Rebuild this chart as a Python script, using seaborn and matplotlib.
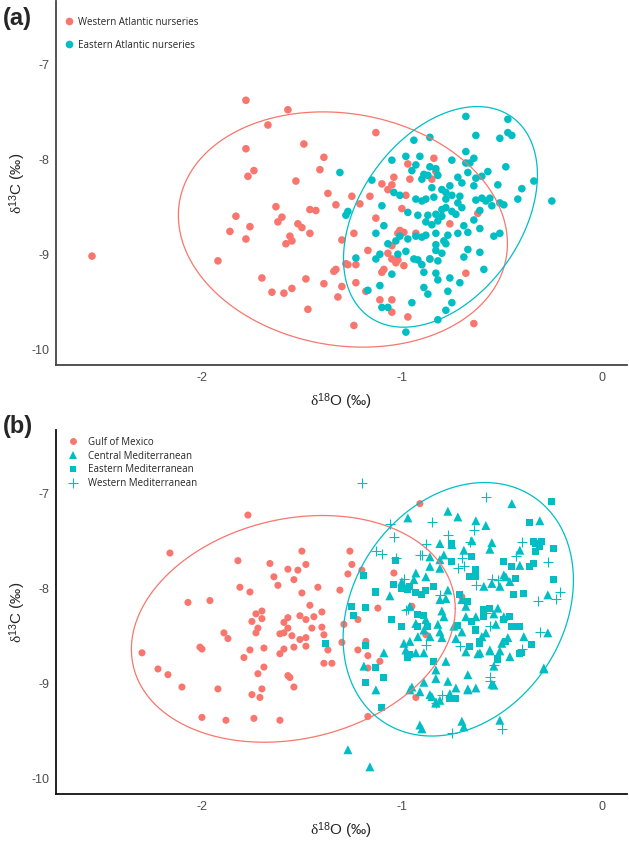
import numpy as np
import pandas as pd
import matplotlib
matplotlib.use("Agg")
import matplotlib.pyplot as plt
from matplotlib.lines import Line2D
import seaborn as sns

# ── Data: (d18O, d13C) pairs ─────────────────────────────────────────────────

# panel (a)
WESTERN_ATLANTIC = [
    (-2.55, -9.02), (-1.78, -7.38), (-1.57, -7.48), (-1.67, -7.64), (-1.78, -7.89),
    (-1.49, -7.84), (-1.74, -8.12), (-1.77, -8.18), (-1.53, -8.23), (-1.41, -8.11),
    (-1.63, -8.50), (-1.46, -8.53), (-1.43, -8.54), (-1.83, -8.60), (-1.60, -8.61),
    (-1.62, -8.66), (-1.52, -8.68), (-1.50, -8.72), (-1.76, -8.71), (-1.86, -8.76),
    (-1.46, -8.78), (-1.78, -8.84), (-1.56, -8.81), (-1.55, -8.86), (-1.58, -8.89),
    (-1.92, -9.07), (-1.70, -9.25), (-1.48, -9.26), (-1.65, -9.40), (-1.59, -9.41),
    (-1.55, -9.36), (-1.47, -9.58),
    (-1.13, -7.72), (-1.39, -7.98), (-1.37, -8.36), (-1.33, -8.48), (-1.25, -8.39),
    (-1.21, -8.47), (-1.16, -8.39), (-1.30, -8.85), (-1.24, -8.78), (-1.10, -8.26),
    (-1.07, -8.32), (-1.04, -8.19), (-1.05, -8.27), (-0.97, -8.05), (-0.96, -8.21),
    (-0.98, -8.38), (-1.00, -8.52), (-1.13, -8.62), (-0.84, -7.99), (-0.85, -8.21),
    (-0.83, -8.13), (-1.02, -8.78), (-1.01, -8.75), (-0.99, -8.77), (-0.93, -8.78),
    (-1.05, -8.91), (-1.07, -8.99), (-1.05, -9.05), (-1.03, -9.09), (-1.02, -9.06),
    (-0.99, -9.12), (-1.09, -9.16), (-1.10, -9.19), (-1.17, -8.96), (-1.28, -9.10),
    (-1.27, -9.11), (-1.23, -9.11), (-1.34, -9.18), (-1.33, -9.16), (-1.30, -9.34),
    (-1.39, -9.31), (-1.32, -9.45), (-1.23, -9.30), (-1.24, -9.75), (-1.18, -9.39),
    (-1.11, -9.48), (-1.05, -9.48), (-1.05, -9.61), (-0.97, -9.66), (-0.86, -9.05),
    (-0.76, -8.68), (-0.68, -9.20), (-0.64, -9.73), (-0.62, -8.57),
]

EASTERN_ATLANTIC = [
    (-0.68, -7.55), (-0.47, -7.58), (-0.47, -7.72), (-0.45, -7.75), (-0.51, -7.78),
    (-0.63, -7.75), (-0.86, -7.77), (-0.94, -7.80), (-0.68, -7.92), (-0.64, -7.99),
    (-0.98, -7.97), (-0.91, -7.97), (-1.05, -8.01), (-0.93, -8.06), (-0.75, -8.01),
    (-0.68, -8.04), (-0.66, -8.04), (-0.48, -8.08), (-0.86, -8.08), (-1.31, -8.14),
    (-0.95, -8.12), (-0.89, -8.16), (-0.83, -8.10), (-0.87, -8.17), (-0.82, -8.17),
    (-0.90, -8.21), (-0.72, -8.19), (-0.67, -8.14), (-0.63, -8.20), (-0.60, -8.18),
    (-0.57, -8.13), (-0.70, -8.25), (-0.64, -8.28), (-0.52, -8.27), (-0.34, -8.23),
    (-0.40, -8.31), (-0.42, -8.42), (-0.49, -8.48), (-1.15, -8.22), (-0.85, -8.30),
    (-0.80, -8.32), (-0.76, -8.28), (-0.75, -8.38), (-0.78, -8.35), (-0.84, -8.40),
    (-0.88, -8.42), (-0.93, -8.42), (-0.90, -8.44), (-1.04, -8.35), (-1.01, -8.38),
    (-0.78, -8.42), (-0.72, -8.46), (-0.71, -8.39), (-0.63, -8.43), (-0.60, -8.41),
    (-0.58, -8.44), (-0.55, -8.49), (-0.51, -8.46), (-0.56, -8.41), (-1.10, -8.49),
    (-0.97, -8.56), (-0.92, -8.59), (-0.87, -8.59), (-0.83, -8.58), (-0.80, -8.53),
    (-0.78, -8.51), (-0.75, -8.55), (-0.70, -8.51), (-0.61, -8.54), (-0.64, -8.64),
    (-0.69, -8.70), (-0.73, -8.58), (-0.80, -8.60), (-0.82, -8.65), (-0.85, -8.69),
    (-0.88, -8.66), (-1.09, -8.70), (-1.13, -8.78), (-1.28, -8.59), (-1.27, -8.55),
    (-1.07, -8.89), (-1.03, -8.86), (-1.01, -8.81), (-0.97, -8.84), (-0.93, -8.81),
    (-0.90, -8.82), (-0.88, -8.80), (-0.83, -8.78), (-0.77, -8.80), (-0.79, -8.86),
    (-0.83, -8.90), (-0.78, -8.89), (-0.72, -8.78), (-0.67, -8.77), (-0.61, -8.73),
    (-0.54, -8.81), (-0.51, -8.78), (-0.69, -9.03), (-1.11, -9.00), (-1.13, -9.05),
    (-1.02, -9.00), (-0.98, -8.97), (-0.94, -9.05), (-0.92, -9.06), (-0.86, -9.05),
    (-0.82, -9.07), (-0.83, -8.96), (-0.80, -8.99), (-0.67, -8.95), (-0.61, -8.98),
    (-0.90, -9.11), (-0.89, -9.19), (-0.83, -9.20), (-0.82, -9.27), (-0.76, -9.25),
    (-0.71, -9.30), (-0.59, -9.16), (-1.23, -9.04), (-1.11, -9.33), (-1.17, -9.38),
    (-1.05, -9.21), (-0.89, -9.35), (-0.87, -9.42), (-0.77, -9.39), (-0.75, -9.51),
    (-0.78, -9.59), (-0.95, -9.51), (-1.10, -9.56), (-1.07, -9.56), (-0.82, -9.69),
    (-0.98, -9.82), (-0.25, -8.44),
]

# panel (b)
GULF_OF_MEXICO = [
    (-1.77, -7.23), (-2.16, -7.63), (-1.82, -7.71), (-1.66, -7.74), (-1.50, -7.61),
    (-1.48, -7.75), (-1.57, -7.80), (-1.52, -7.81), (-1.64, -7.88), (-1.54, -7.91),
    (-1.62, -7.97), (-1.81, -7.99), (-1.76, -8.04), (-1.50, -8.05), (-1.42, -7.99),
    (-2.07, -8.15), (-1.96, -8.13), (-1.46, -8.18), (-1.73, -8.27), (-1.70, -8.24),
    (-1.70, -8.32), (-1.75, -8.35), (-1.40, -8.25), (-1.44, -8.30), (-1.51, -8.29),
    (-1.57, -8.31), (-1.48, -8.33), (-1.59, -8.36), (-1.45, -8.42), (-1.40, -8.41),
    (-1.72, -8.42), (-1.73, -8.47), (-1.57, -8.42), (-1.89, -8.47), (-1.87, -8.53),
    (-1.61, -8.48), (-1.59, -8.47), (-1.55, -8.50), (-1.51, -8.54), (-1.48, -8.52),
    (-1.39, -8.49), (-2.01, -8.62), (-2.00, -8.64), (-2.30, -8.68), (-1.76, -8.65),
    (-1.69, -8.63), (-1.54, -8.62), (-1.59, -8.64), (-1.61, -8.69), (-1.48, -8.61),
    (-1.37, -8.65), (-1.79, -8.73), (-1.39, -8.79), (-1.35, -8.79), (-1.69, -8.83),
    (-1.72, -8.90), (-2.22, -8.85), (-2.17, -8.91), (-1.57, -8.92), (-1.56, -8.94),
    (-2.10, -9.04), (-1.92, -9.06), (-1.54, -9.04), (-1.70, -9.06), (-1.75, -9.12),
    (-1.71, -9.15), (-2.00, -9.36), (-1.88, -9.39), (-1.74, -9.37), (-1.61, -9.39),
    (-0.91, -7.11), (-1.26, -7.61), (-1.25, -7.75), (-1.20, -7.81), (-1.27, -7.85),
    (-1.04, -7.84), (-1.31, -8.02), (-1.12, -8.21), (-1.22, -8.33), (-1.29, -8.38),
    (-1.30, -8.57), (-1.18, -8.56), (-1.22, -8.65), (-1.17, -8.71), (-1.11, -8.77),
    (-1.17, -8.84), (-0.70, -8.09), (-0.95, -8.19), (-0.59, -8.26), (-0.88, -8.49),
    (-0.93, -9.15), (-1.17, -9.35),
]

CENTRAL_MED = [
    (-0.45, -7.11), (-0.77, -7.19), (-0.72, -7.25), (-0.97, -7.26), (-0.63, -7.29),
    (-0.58, -7.34), (-0.31, -7.29), (-0.65, -7.50), (-0.55, -7.52), (-0.56, -7.59),
    (-0.81, -7.53), (-0.75, -7.54), (-0.69, -7.60), (-0.41, -7.60), (-0.86, -7.67),
    (-0.81, -7.70), (-0.79, -7.65), (-0.86, -7.77), (-0.81, -7.79), (-0.93, -7.84),
    (-0.88, -7.88), (-0.94, -7.91), (-1.00, -7.93), (-1.06, -8.08), (-0.55, -7.95),
    (-0.59, -7.98), (-0.51, -7.98), (-0.46, -7.93), (-0.48, -7.88), (-0.27, -8.07),
    (-0.77, -8.02), (-0.78, -8.11), (-0.81, -8.12), (-0.70, -8.12), (-0.68, -8.19),
    (-0.63, -8.30), (-0.68, -8.30), (-0.80, -8.24), (-0.79, -8.30), (-0.88, -8.33),
    (-0.93, -8.37), (-0.82, -8.38), (-0.89, -8.44), (-0.81, -8.46), (-0.80, -8.52),
    (-0.86, -8.51), (-0.92, -8.51), (-0.96, -8.56), (-0.99, -8.58), (-0.93, -8.68),
    (-0.89, -8.68), (-0.98, -8.65), (-0.58, -8.47), (-0.60, -8.51), (-0.53, -8.38),
    (-0.54, -8.27), (-0.52, -8.21), (-0.49, -8.30), (-0.47, -8.52), (-0.50, -8.58),
    (-0.39, -8.51), (-0.27, -8.47), (-0.68, -8.67), (-0.61, -8.68), (-0.56, -8.66),
    (-0.51, -8.66), (-0.46, -8.72), (-0.54, -8.82), (-0.67, -8.91), (-0.77, -8.98),
    (-0.83, -8.86), (-0.83, -8.95), (-0.89, -8.99), (-0.95, -9.04), (-0.96, -9.07),
    (-0.91, -9.09), (-0.86, -9.12), (-0.83, -9.20), (-0.81, -9.18), (-0.76, -9.11),
    (-0.73, -9.05), (-0.63, -9.05), (-0.67, -9.06), (-0.55, -9.01), (-1.09, -8.68),
    (-1.19, -8.82), (-1.13, -9.07), (-0.29, -8.85), (-0.51, -9.39), (-0.91, -9.44),
    (-0.90, -9.48), (-0.70, -9.40), (-0.69, -9.46), (-1.27, -9.70), (-1.16, -9.88),
    (-0.78, -8.77), (-0.73, -8.53), (-0.70, -8.46), (-0.74, -8.40), (-0.96, -8.19),
    (-0.49, -7.86), (-0.41, -7.76), (-0.62, -8.69), (-0.56, -8.65), (-0.67, -9.07),
    (-0.54, -9.02), (-0.85, -9.14), (-0.83, -9.21), (-0.29, -8.84),
]

EASTERN_MED = [
    (-0.25, -7.09), (-0.36, -7.31), (-0.34, -7.51), (-0.33, -7.53), (-0.30, -7.51),
    (-0.31, -7.56), (-0.33, -7.61), (-0.24, -7.58), (-1.03, -7.71), (-1.19, -7.87),
    (-1.13, -8.04), (-1.25, -8.19), (-1.18, -8.20), (-1.24, -8.29), (-1.05, -8.33),
    (-1.00, -8.40), (-1.04, -7.96), (-1.00, -8.00), (-0.96, -7.98), (-0.93, -8.05),
    (-0.90, -8.07), (-0.88, -8.02), (-0.84, -7.98), (-0.75, -7.72), (-0.75, -7.53),
    (-0.65, -7.67), (-0.66, -7.88), (-0.63, -7.80), (-0.63, -7.88), (-0.49, -7.72),
    (-0.45, -7.77), (-0.36, -7.77), (-0.34, -7.74), (-0.43, -7.90), (-0.44, -8.07),
    (-0.39, -8.06), (-0.24, -7.91), (-0.59, -8.22), (-0.56, -8.21), (-0.46, -8.30),
    (-0.45, -8.40), (-0.41, -8.40), (-0.65, -8.35), (-0.63, -8.44), (-0.72, -8.39),
    (-0.71, -8.07), (-0.67, -8.14), (-0.92, -8.28), (-0.89, -8.29), (-0.87, -8.40),
    (-0.92, -8.40), (-0.66, -8.61), (-0.61, -8.58), (-0.48, -8.56), (-0.35, -8.59),
    (-0.40, -8.68), (-0.52, -8.75), (-1.18, -8.60), (-1.13, -8.83), (-1.18, -8.99),
    (-1.09, -8.94), (-1.10, -9.26), (-0.73, -9.16), (-0.76, -9.16), (-0.97, -8.73),
    (-0.96, -8.70), (-0.84, -8.77), (-1.38, -8.58),
    (-0.97, -8.01), (-0.59, -8.30), (-0.43, -8.40), (-0.49, -8.33), (-0.61, -8.56),
    (-0.52, -8.74), (-0.41, -8.69),
]

WESTERN_MED = [
    (-1.20, -6.89), (-0.58, -7.04), (-0.85, -7.30), (-1.06, -7.32), (-1.04, -7.46),
    (-0.77, -7.44), (-0.64, -7.39), (-0.88, -7.53), (-0.66, -7.51), (-1.13, -7.61),
    (-1.10, -7.64), (-1.03, -7.68), (-0.90, -7.65), (-0.70, -7.68), (-0.72, -7.79),
    (-0.69, -7.77), (-0.99, -7.90), (-0.43, -7.66), (-0.40, -7.51), (-0.27, -7.72),
    (-0.55, -7.90), (-0.52, -7.91), (-0.63, -7.97), (-0.81, -8.07), (-0.21, -8.04),
    (-0.23, -8.11), (-0.32, -8.13), (-0.97, -8.22), (-0.58, -8.26), (-0.31, -8.46),
    (-0.56, -8.40), (-0.71, -8.61), (-0.88, -8.60), (-0.40, -8.64), (-0.56, -8.93),
    (-0.54, -8.81), (-0.56, -8.98), (-0.80, -9.12), (-0.83, -9.21), (-0.50, -9.48),
    (-0.75, -9.52), (-0.91, -7.65), (-0.98, -8.23),
]

# 95% ellipses: centre d18O, centre d13C, half-range d18O, half-range d13C, correlation
ELLIPSE_WESTERN_ATLANTIC = [-1.295, -8.740, 0.823, 1.238, -0.12]
ELLIPSE_EASTERN_ATLANTIC = [-0.807, -8.607, 0.485, 1.161, 0.38]
ELLIPSE_GULF = [-1.543, -8.428, 0.810, 1.193, 0.18]
ELLIPSE_MEDITERRANEAN = [-0.718, -8.222, 0.576, 1.334, 0.23]

X_TICKS = [-2, -1, 0]
Y_TICKS = [-10, -9, -8, -7]
X_LIM = (-2.73, 0.126)
Y_LIM = (-10.166, -6.335)

RED = "#F8766D"
TEAL = "#00BFC4"


def _frame(pairs, group):
    df = pd.DataFrame(pairs, columns=["d18O", "d13C"])
    df["group"] = group
    return df


def _ellipse(ax, params, color):
    """Draw an ellipse outline from centre / half-ranges / correlation."""
    cx, cy, hx, hy, r = params
    t = np.linspace(0, 2 * np.pi, 300)
    phi = np.arccos(r)
    ax.plot(cx + hx * np.cos(t), cy + hy * np.cos(t - phi),
            color=color, lw=0.9, zorder=3)


def _style_axes(ax, spine_color):
    sns.despine(ax=ax)
    for side in ("left", "bottom"):
        ax.spines[side].set_color(spine_color)
        ax.spines[side].set_linewidth(1.3)
    ax.set_xlim(*X_LIM)
    ax.set_ylim(*Y_LIM)
    ax.set_xticks(X_TICKS)
    ax.set_yticks(Y_TICKS)
    ax.tick_params(length=3, width=0.9, color="#333333", labelcolor="#4D4D4D",
                   labelsize=9, direction="out", pad=2)
    ax.set_xlabel(r"$\mathrm{\delta}^{\mathsf{18}}$O (‰)", fontsize=11)
    ax.set_ylabel(r"$\mathrm{\delta}^{\mathsf{13}}$C (‰)", fontsize=11)
    ax.xaxis.set_label_coords(0.5, -0.072)
    ax.yaxis.set_label_coords(-0.049, 0.5)
    ax.grid(False)


sns.set_theme(style="white")
plt.rcParams["font.family"] = ["Liberation Sans", "DejaVu Sans"]
plt.rcParams["axes.unicode_minus"] = False
plt.rcParams["mathtext.fontset"] = "custom"
plt.rcParams["mathtext.rm"] = "Liberation Serif"
plt.rcParams["mathtext.sf"] = "Liberation Sans"
plt.rcParams["mathtext.it"] = "Liberation Serif:italic"

fig = plt.figure(figsize=(6.29, 8.42), dpi=100)
ax_a = fig.add_axes([56 / 629, 1 - 365 / 842, 571 / 629, 364 / 842])
ax_b = fig.add_axes([56 / 629, 1 - 794 / 842, 571 / 629, 364 / 842])

# ── (a) Atlantic nurseries ────────────────────────────────────────────────────
df_a = pd.concat([_frame(WESTERN_ATLANTIC, "Western Atlantic nurseries"),
                  _frame(EASTERN_ATLANTIC, "Eastern Atlantic nurseries")])
sns.scatterplot(data=df_a, x="d18O", y="d13C", hue="group",
                palette=[RED, TEAL], s=30, edgecolor="none", linewidth=0,
                legend=False, ax=ax_a, zorder=2)
_ellipse(ax_a, ELLIPSE_WESTERN_ATLANTIC, RED)
_ellipse(ax_a, ELLIPSE_EASTERN_ATLANTIC, TEAL)
_style_axes(ax_a, "#444444")

handles_a = [Line2D([], [], ls="", marker="o", color=c, markersize=5.5, markeredgewidth=0)
             for c in (RED, TEAL)]
ax_a.legend(handles_a, ["Western Atlantic nurseries", "Eastern Atlantic nurseries"],
            loc="upper left", bbox_to_anchor=(60 / 629, 1 - 12 / 842),
            bbox_transform=fig.transFigure, frameon=False, borderpad=0,
            handlelength=0.8, handletextpad=0.5, labelspacing=1.2,
            prop={"family": "Open Sans", "size": 7})

# ── (b) Gulf of Mexico vs Mediterranean ──────────────────────────────────────
sns.scatterplot(data=_frame(GULF_OF_MEXICO, "Gulf of Mexico"), x="d18O", y="d13C",
                color=RED, marker="o", s=26, edgecolor="none", linewidth=0,
                ax=ax_b, zorder=2)
sns.scatterplot(data=_frame(CENTRAL_MED, "Central Mediterranean"), x="d18O", y="d13C",
                color=TEAL, marker="^", s=42, edgecolor="none", linewidth=0,
                ax=ax_b, zorder=2)
sns.scatterplot(data=_frame(EASTERN_MED, "Eastern Mediterranean"), x="d18O", y="d13C",
                color=TEAL, marker="s", s=26, edgecolor="none", linewidth=0,
                ax=ax_b, zorder=2)
sns.scatterplot(data=_frame(WESTERN_MED, "Western Mediterranean"), x="d18O", y="d13C",
                color=TEAL, marker="+", s=55, linewidth=0.8,
                ax=ax_b, zorder=2)
_ellipse(ax_b, ELLIPSE_GULF, RED)
_ellipse(ax_b, ELLIPSE_MEDITERRANEAN, TEAL)
_style_axes(ax_b, "#111111")

handles_b = [
    Line2D([], [], ls="", marker="o", color=RED, markersize=5, markeredgewidth=0),
    Line2D([], [], ls="", marker="^", color=TEAL, markersize=6, markeredgewidth=0),
    Line2D([], [], ls="", marker="s", color=TEAL, markersize=5, markeredgewidth=0),
    Line2D([], [], ls="", marker="+", color=TEAL, markersize=7.5, markeredgewidth=0.8),
]
ax_b.legend(handles_b, ["Gulf of Mexico", "Central Mediterranean",
                        "Eastern Mediterranean", "Western Mediterranean"],
            loc="upper left", bbox_to_anchor=(62 / 629, 1 - 432 / 842),
            bbox_transform=fig.transFigure, frameon=False, borderpad=0,
            handlelength=1.2, handletextpad=1.0, labelspacing=0.28,
            prop={"family": "Open Sans", "size": 7})

# panel tags
fig.text(3 / 629, 1 - 19 / 842, "(a)", fontsize=17, fontweight="bold", va="center")
fig.text(3 / 629, 1 - 427 / 842, "(b)", fontsize=17, fontweight="bold", va="center")

fig.savefig("out.png", dpi=100)
